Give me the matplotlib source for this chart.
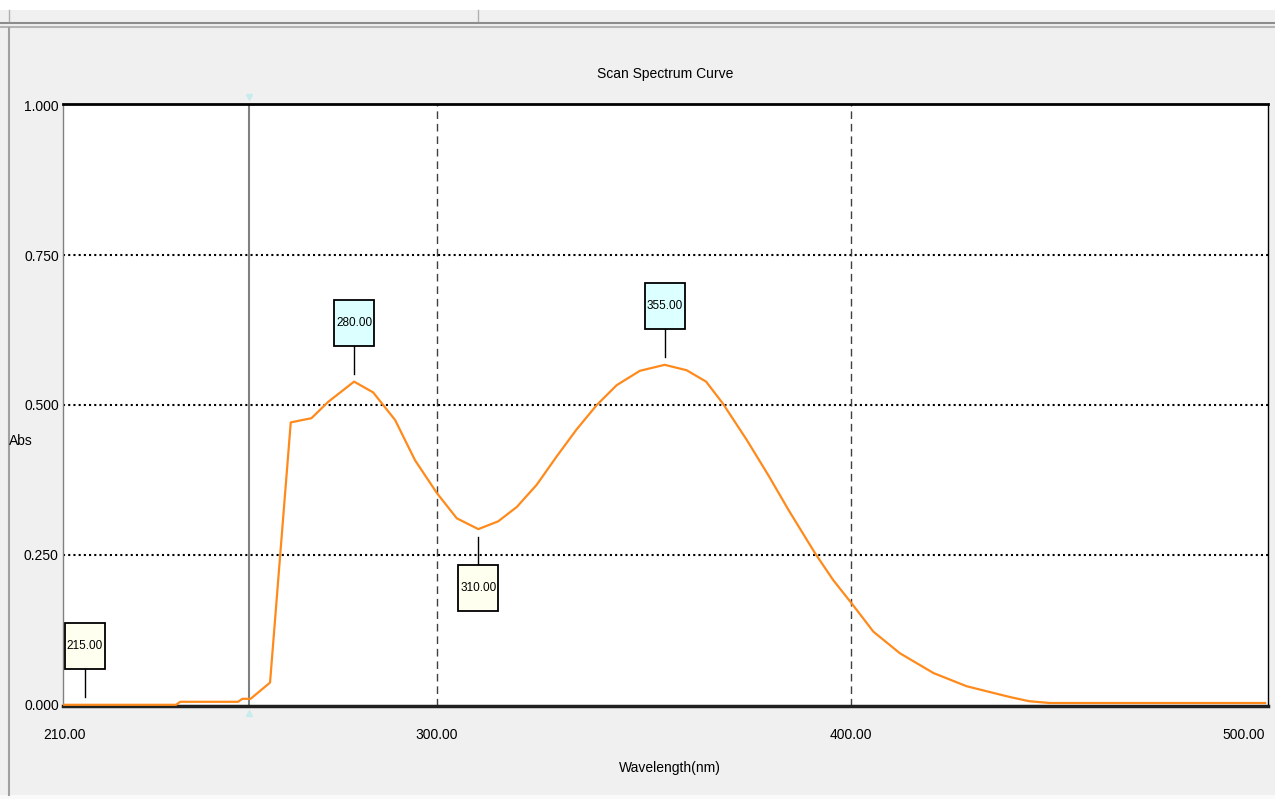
import numpy as np
import matplotlib
matplotlib.use("Agg")
import matplotlib.pyplot as plt
import matplotlib.transforms as mtransforms
from matplotlib.patches import Rectangle
from matplotlib.lines import Line2D

plt.rcParams['font.family'] = ['Liberation Sans', 'DejaVu Sans']

# scan data
wavelength = [210, 237, 238, 252, 253, 255, 259.7, 264.7, 269.7, 273.7, 280, 284.6,
              289.9, 294.7, 300, 304.8, 310, 314.8, 319.3, 324.1, 328.9, 333.7,
              338.6, 343.4, 349, 355, 360.3, 365, 369, 374.8, 380.2, 384.9, 391.3,
              395.7, 400.4, 405.4, 411.8, 419.9, 427.9, 436, 439, 443, 448, 500]
absorb = [0.0, 0.0, 0.005, 0.005, 0.01, 0.01, 0.037, 0.471, 0.478, 0.505, 0.539, 0.521,
          0.475, 0.408, 0.353, 0.311, 0.293, 0.306, 0.33, 0.367, 0.414, 0.459,
          0.5, 0.533, 0.557, 0.567, 0.558, 0.539, 0.503, 0.442, 0.381, 0.325, 0.253,
          0.208, 0.167, 0.122, 0.086, 0.053, 0.031, 0.017, 0.012, 0.006, 0.003, 0.003]

x_ticks = [210, 300, 400, 500]
y_ticks = [0.0, 0.25, 0.5, 0.75, 1.0]

mark_wl = [215, 280, 310, 355]
mark_dir = [1, 1, -1, 1]          # 1 = label above curve, -1 = below
mark_fc = ['#fffff0', '#dcffff', '#fffff0', '#dcffff']

cursor_wl = 254.6

fig = plt.figure(figsize=(12.75, 7.99), dpi=100, facecolor='#f0f0f0')
ax = fig.add_axes([63 / 1275, 93 / 799, 1205 / 1275, 602 / 799])
ax.set_facecolor('white')

ax.set_xlim(209.7, 500.7)
ax.set_ylim(-0.002, 1.002)

# grid
for yv in y_ticks[1:-1]:
    ax.axhline(yv, color='black', lw=1.5, linestyle=(0, (1, 1.5)), zorder=1)
for xv in x_ticks[1:-1]:
    ax.axvline(xv, color='#404040', lw=1, linestyle=(0, (5.5, 3.5)), zorder=1)

# cursor line
ax.axvline(cursor_wl, color='#808080', lw=1.5, zorder=2)
ax.plot([cursor_wl], [1.014], marker='v', ms=4, color='#c8ecec', clip_on=False)
ax.plot([cursor_wl], [-0.014], marker='^', ms=4, color='#c8ecec', clip_on=False)

ax.plot(wavelength, absorb, color='#ff8a1c', lw=1.6, zorder=3)

# peak / valley labels
for wl, d, fc in zip(mark_wl, mark_dir, mark_fc):
    a = np.interp(wl, wavelength, absorb)
    tr = mtransforms.ScaledTranslation(wl, a, ax.transData)
    ax.add_line(Line2D([0, 0], [d * 8, d * 36], color='black', lw=1, transform=tr))
    y0 = 36 if d > 0 else -82
    ax.add_patch(Rectangle((-20, y0), 40, 46, facecolor=fc, edgecolor='black',
                           lw=1.3, transform=tr, zorder=4))
    ax.annotate(f"{wl:.2f}", xy=(wl, a), xytext=(0, d * 59 * 0.72),
                textcoords='offset points', ha='center', va='center',
                fontsize=8.5, zorder=5)

ax.set_xticks(x_ticks)
ax.set_xticklabels([f"{v:.2f}" for v in x_ticks])
ax.set_yticks(y_ticks)
ax.set_yticklabels([f"{v:.3f}" for v in y_ticks])
ax.tick_params(axis='both', length=0, labelsize=10, colors='black')
ax.tick_params(axis='x', pad=16)
ax.tick_params(axis='y', pad=3)
# last x label sits at the window edge
ax.get_xticklabels()[-1].set_horizontalalignment('right')
ax.get_xticklabels()[-1].set_x(500.7)

ax.spines['top'].set_linewidth(2)
ax.spines['bottom'].set_linewidth(2.5)
ax.spines['bottom'].set_color('#202020')
ax.spines['right'].set_linewidth(1)
ax.spines['left'].set_linewidth(1)
ax.spines['left'].set_color('#808080')

fig.text(665 / 1275, 1 - 74 / 799, "Scan Spectrum Curve", ha='center', va='center', fontsize=10)
fig.text(670 / 1275, 1 - 768 / 799, "Wavelength(nm)", ha='center', va='center', fontsize=10)
fig.text(21 / 1275, 1 - 441 / 799, "Abs", ha='center', va='center', fontsize=10)

# window frame bits
fig.patches.append(Rectangle((0, 1 - 10 / 799), 1, 10 / 799, transform=fig.transFigure,
                             facecolor='white', edgecolor='none'))
fig.patches.append(Rectangle((0, 0), 1, 4 / 799, transform=fig.transFigure,
                             facecolor='#fafafa', edgecolor='none'))
fig.add_artist(Line2D([0, 1], [1 - 23 / 799] * 2, color='#8c8c8c', lw=1.5))
fig.add_artist(Line2D([0, 1], [1 - 27 / 799] * 2, color='#b4b4b4', lw=1.5))
fig.add_artist(Line2D([8.5 / 1275] * 2, [4 / 799, 1 - 28 / 799], color='#a0a0a0', lw=1.5))
fig.add_artist(Line2D([8.5 / 1275] * 2, [1 - 21 / 799, 1 - 10 / 799], color='#b0b0b0', lw=1))
fig.add_artist(Line2D([478 / 1275] * 2, [1 - 21 / 799, 1 - 10 / 799], color='#b0b0b0', lw=1))

fig.savefig("out.png", dpi=100, facecolor=fig.get_facecolor())
